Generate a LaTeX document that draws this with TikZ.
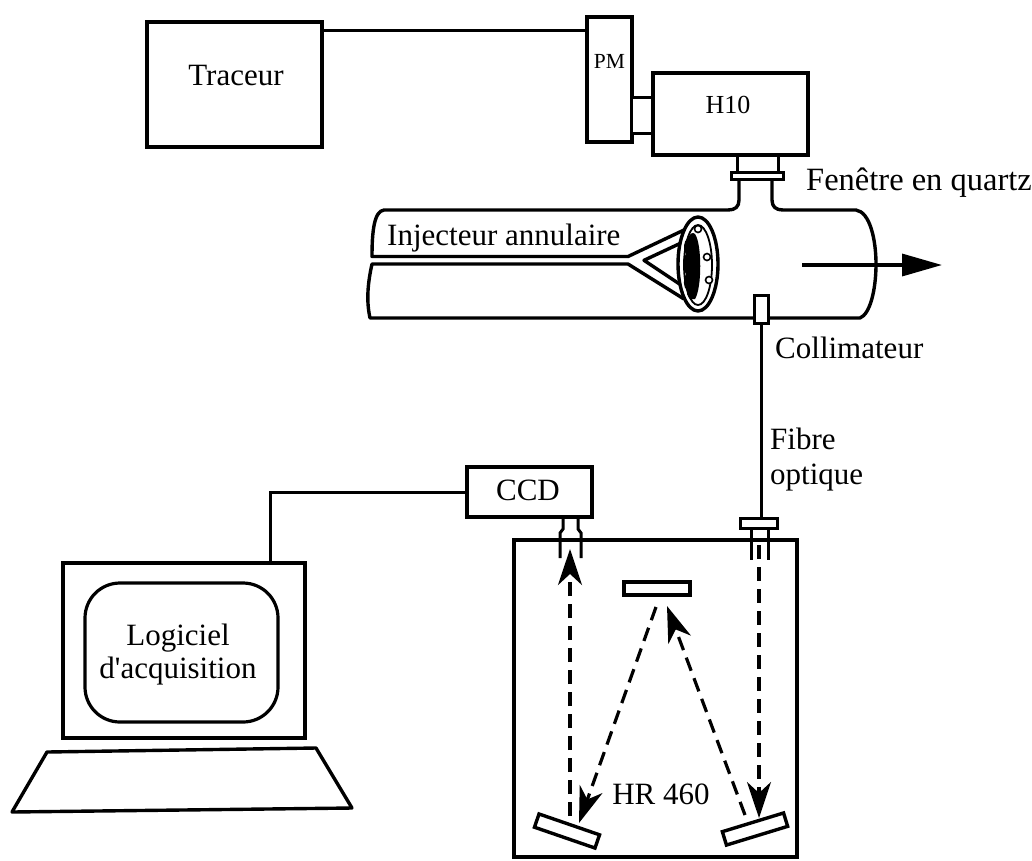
\documentclass[tikz,border=0pt]{standalone}
\usepackage{fontspec}
\setmainfont{Liberation Serif}[Ligatures=TeXOff]
\usetikzlibrary{arrows.meta,calc}
\begin{document}
\begin{tikzpicture}[x=1pt,y=-1pt,
  font=\fontsize{31}{36}\selectfont,
  box/.style={draw, line width=3.6pt, fill=white, inner sep=0pt},
  part/.style={draw, line width=3pt, fill=white, inner sep=0pt},
  wall/.style={line width=3.4pt, line join=round},
  wire/.style={line width=3pt},
  txt/.style={inner sep=0pt, anchor=base},
  mirror/.style={draw, line width=3.4pt, fill=white, inner sep=0pt, minimum width=64pt, minimum height=14pt},
  ray/.style={line width=3.2pt, dash pattern=on 14pt off 8pt,
    -{Stealth[length=36pt,width=24pt,inset=11pt]}},
  hole/.style={draw, line width=1.6pt, fill=white}]
\useasboundingbox (0,0) rectangle (1032,860);

% ---------- recorder, photomultiplier, monochromator ----------
\node[box, minimum width=175pt, minimum height=125pt] (traceur) at (234.5,84.5) {};
\node[txt] (traceurtxt) at (236,85) {Traceur};
\node[box, minimum width=45pt, minimum height=125pt] (pm) at (609.5,79.5) {};
\node[txt, font=\fontsize{21.5}{25}\selectfont] (pmtxt) at (609.5,68) {PM};
\node[part, minimum width=22pt, minimum height=36pt] (adapt) at (642,115) {};
\node[box, minimum width=155pt, minimum height=82pt] (h10) at (730.5,114) {};
\node[txt, font=\fontsize{26}{30}\selectfont] (h10txt) at (728,113) {H10};
\coordinate (tp) at ([yshift=-10pt]traceur.north east);
\draw[wire] (tp) -- (tp -| pm.west);

% ---------- quartz window ----------
\node[part, minimum width=41pt, minimum height=18pt] (neck) at (757.5,164) {};
\node[part, minimum width=52pt, minimum height=7pt] (flange) at (757,175.5) {};
\node[txt, anchor=base west, font=\fontsize{32.5}{37}\selectfont] (fenetre) at (806,190) {Fenêtre en quartz};

% ---------- burner tube with annular injector ----------
\draw[wall] (739,179) -- (739,200) .. controls (739,207) and (735,210) .. (728,210)
  -- (384,210) .. controls (374,211) and (372,232) .. (372,256.5)
  -- (628,256.5) -- (684,230);
\draw[wall] (772,179) -- (772,200) .. controls (772,207) and (776,210) .. (783,210)
  -- (856,210) .. controls (870,212) and (876,240) .. (876,264)
  .. controls (876,290) and (870,314) .. (860,318)
  -- (370,318) .. controls (366,300) and (368,282) .. (372,264)
  -- (628,264) -- (684,299);
\draw[wall] (681,243) -- (644,260.3) -- (681,285);
\node[txt, anchor=base west] (injtxt) at (387,245) {Injecteur annulaire};

\draw[wall, fill=white] (698,264) ellipse [x radius=20pt, y radius=47pt];
\draw[line width=1.8pt] (698,265) ellipse [x radius=14pt, y radius=40pt];
\fill (695,234) .. controls (702,244) and (702,288) .. (695,299)
  .. controls (690,301) and (686,296) .. (687,290)
  .. controls (683,288) and (683,278) .. (686,274)
  .. controls (682,268) and (682,258) .. (686,254)
  .. controls (683,250) and (683,241) .. (688,238)
  .. controls (690,233) and (693,232) .. (695,234);
\draw[hole] (698,229) circle [radius=3.5pt];
\draw[hole] (707,257) circle [radius=3.5pt];
\draw[hole] (709,280) circle [radius=3.5pt];

\coordinate (flowstart) at (802,265);
\coordinate (flowend) at (942,265);
\draw[line width=3.4pt, -{Triangle[length=40pt,width=22pt]}] (flowstart) -- (flowend);

% ---------- collimator and optical fibre ----------
\node[part, minimum width=14pt, minimum height=28pt] (coll) at (761,309) {};
\node[txt, anchor=base west] (colltxt) at (775,358) {Collimateur};
\node[part, minimum width=37pt, minimum height=10pt] (fibflange) at (758.5,523) {};
\draw[wire] (coll.south) -- (coll.south |- fibflange.north);
\node[txt, anchor=base west] (fibtxt) at (770,449) {Fibre};
\node[txt, anchor=base west] (opttxt) at (770,484) {optique};

% ---------- spectrometer HR 460 ----------
\node[box, fill=none, minimum width=283pt, minimum height=317pt] (hr) at (655.5,698.5) {};
\draw[wire] (751,528) -- (751,560);
\draw[wire] (768,528) -- (768,560);

\node[box, minimum width=125pt, minimum height=50pt] (ccd) at (529.5,492) {};
\node[txt] (ccdtxt) at (528,500) {CCD};
\draw[wire] (563,517) -- (563,529) -- (560,533) -- (560,558);
\draw[wire] (578,517) -- (578,529) -- (581,533) -- (581,558);

\node[mirror, minimum width=66pt, minimum height=13pt] (mtop) at (657,588.5) {};
\node[mirror, rotate=-19] (mleft) at (567,831) {};
\node[mirror, rotate=17] (mright) at (755,829) {};
\node[txt] (hrtxt) at (661,804) {HR 460};

\coordinate (inlet) at (759,545);
\coordinate (inhit) at (759,818);
\coordinate (r1) at (745,815);
\coordinate (r1hit) at (667,606);
\coordinate (r2) at (656,607);
\coordinate (r2hit) at (579,823);
\coordinate (outst) at (570,816);
\coordinate (outhit) at (570,549);
\draw[ray] (inlet) -- (inhit);
\draw[ray] (r1) -- (r1hit);
\draw[ray] (r2) -- (r2hit);
\draw[ray] (outst) -- (outhit);

% ---------- acquisition computer ----------
\node[box, minimum width=242pt, minimum height=175pt] (monitor) at (184,650.5) {};
\node[draw, line width=3.2pt, rounded corners=35pt, minimum width=193pt, minimum height=139pt] (screen) at (181.5,652.5) {};
\node[txt] (logtxt) at (178,645) {Logiciel};
\node[txt] (acqtxt) at (178,678) {d'acquisition};
\draw[wall] (47,752) -- (316,748) -- (352,808) -- (12,812) -- cycle;
\coordinate (montop) at (270,563);
\draw[wire] (ccd.west) -| (montop);
\end{tikzpicture}
\end{document}
